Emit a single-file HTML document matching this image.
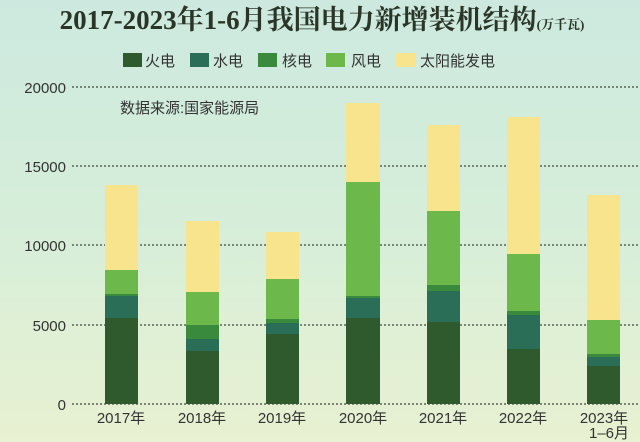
<!DOCTYPE html><html><head><meta charset="utf-8"><style>
body{margin:0;width:640px;height:442px;overflow:hidden;background:linear-gradient(180deg,#cde9df 0%,#d6eed9 50%,#e8f1d2 100%);font-family:"Liberation Sans","Noto Sans CJK SC",sans-serif;}
</style></head><body>
<svg width="640" height="442" xmlns="http://www.w3.org/2000/svg" style="position:absolute;left:0;top:0">
<text x="322" y="29" text-anchor="middle" font-family="'Liberation Serif','Noto Serif CJK SC',serif" font-weight="bold" font-size="27" fill="#2a3528">2017-2023年1-6月我国电力新增装机结构<tspan font-size="13">(万千瓦)</tspan></text>
<g font-size="15" fill="#333">
<rect x="123" y="53" width="19" height="14" fill="#2f5a2e"/><text x="145" y="66">火电</text>
<rect x="190" y="53" width="19" height="14" fill="#2b6e58"/><text x="213" y="66">水电</text>
<rect x="258" y="53" width="19" height="14" fill="#3a8a3e"/><text x="282" y="66">核电</text>
<rect x="326" y="53" width="19" height="14" fill="#6cb84a"/><text x="351" y="66">风电</text>
<rect x="396" y="53" width="19" height="14" fill="#f7e48c"/><text x="420" y="66">太阳能发电</text>
</g>
<text x="120" y="113" font-size="15" fill="#333">数据来源:国家能源局</text>
<g stroke="#3d4a3d" stroke-dasharray="2,2" stroke-width="1.3">
<line x1="72" x2="640" y1="87" y2="87"/><line x1="72" x2="640" y1="166" y2="166"/><line x1="72" x2="640" y1="245" y2="245"/><line x1="72" x2="640" y1="325" y2="325"/><line x1="72" x2="640" y1="404" y2="404"/>
</g>
<g font-size="15" fill="#333" text-anchor="end">
<text x="66" y="93">20000</text><text x="66" y="172">15000</text><text x="66" y="251">10000</text><text x="66" y="331">5000</text><text x="66" y="410">0</text>
</g>
<g>
<rect x="105" y="185" width="33" height="85" fill="#f7e48c"/><rect x="105" y="270" width="33" height="24" fill="#6cb84a"/><rect x="105" y="294" width="33" height="2" fill="#3a8a3e"/><rect x="105" y="296" width="33" height="22" fill="#2b6e58"/><rect x="105" y="318" width="33" height="86" fill="#2f5a2e"/>
<rect x="186" y="221" width="33" height="71" fill="#f7e48c"/><rect x="186" y="292" width="33" height="33" fill="#6cb84a"/><rect x="186" y="325" width="33" height="14" fill="#3a8a3e"/><rect x="186" y="339" width="33" height="12" fill="#2b6e58"/><rect x="186" y="351" width="33" height="53" fill="#2f5a2e"/>
<rect x="266" y="232" width="33" height="47" fill="#f7e48c"/><rect x="266" y="279" width="33" height="40" fill="#6cb84a"/><rect x="266" y="319" width="33" height="4" fill="#3a8a3e"/><rect x="266" y="323" width="33" height="11" fill="#2b6e58"/><rect x="266" y="334" width="33" height="70" fill="#2f5a2e"/>
<rect x="346" y="103" width="34" height="79" fill="#f7e48c"/><rect x="346" y="182" width="34" height="114" fill="#6cb84a"/><rect x="346" y="296" width="34" height="2" fill="#3a8a3e"/><rect x="346" y="298" width="34" height="20" fill="#2b6e58"/><rect x="346" y="318" width="34" height="86" fill="#2f5a2e"/>
<rect x="427" y="125" width="33" height="86" fill="#f7e48c"/><rect x="427" y="211" width="33" height="74" fill="#6cb84a"/><rect x="427" y="285" width="33" height="6" fill="#3a8a3e"/><rect x="427" y="291" width="33" height="31" fill="#2b6e58"/><rect x="427" y="322" width="33" height="82" fill="#2f5a2e"/>
<rect x="507" y="117" width="33" height="137" fill="#f7e48c"/><rect x="507" y="254" width="33" height="57" fill="#6cb84a"/><rect x="507" y="311" width="33" height="4" fill="#3a8a3e"/><rect x="507" y="315" width="33" height="34" fill="#2b6e58"/><rect x="507" y="349" width="33" height="55" fill="#2f5a2e"/>
<rect x="587" y="195" width="33" height="125" fill="#f7e48c"/><rect x="587" y="320" width="33" height="34" fill="#6cb84a"/><rect x="587" y="354" width="33" height="3" fill="#3a8a3e"/><rect x="587" y="357" width="33" height="9" fill="#2b6e58"/><rect x="587" y="366" width="33" height="38" fill="#2f5a2e"/>
</g>
<g font-size="15" fill="#333" text-anchor="middle">
<text x="121" y="423">2017年</text><text x="202" y="423">2018年</text><text x="282" y="423">2019年</text><text x="363" y="423">2020年</text><text x="443" y="423">2021年</text><text x="523" y="423">2022年</text><text x="604" y="423">2023年</text><text x="609" y="438">1–6月</text>
</g>
</svg>
</body></html>
